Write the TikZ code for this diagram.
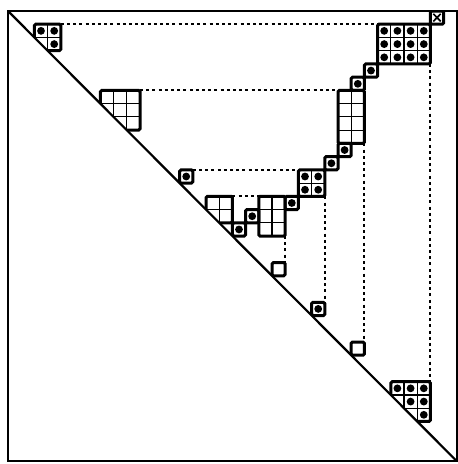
\documentclass[tikz,border=0pt]{standalone}
\tikzset{
  frameline/.style={line width=1.8pt},
  diagline/.style={line width=2.2pt},
  outline/.style={line width=3pt, rounded corners=1.4pt},
  gridline/.style={line width=1.1pt},
  dotline/.style={line width=2pt, dash pattern=on 3pt off 3.2pt},
  dotmark/.style={fill=black},
  xmark/.style={line width=1.6pt},
}
\newcommand\blk[4]{%
  \pgfmathtruncatemacro\blkNA{#3-1}%
  \pgfmathtruncatemacro\blkNB{#4-1}%
  \foreach \i in {1,...,\blkNA}{\draw[gridline] ({#1+\i},#2) -- ({#1+\i},{#2+#4});}
  \foreach \j in {1,...,\blkNB}{\draw[gridline] (#1,{#2+\j}) -- ({#1+#3},{#2+\j});}
  \draw[outline] (#1,#2) rectangle ({#1+#3},{#2+#4});
}
\newcommand\dotat[2]{\fill[dotmark] ({#1+0.5},{#2+0.5}) circle[radius=3.9pt];}
\newcommand\cellbox[2]{\draw[outline] (#1,#2) rectangle ({#1+1},{#2+1});}
\newcommand\celldot[2]{\cellbox{#1}{#2}\dotat{#1}{#2}}
\begin{document}
\begin{tikzpicture}[x=1pt,y=1pt]
\useasboundingbox (0,0) rectangle (458,-464);
\begin{scope}[shift={(8pt,-11pt)}, x=13.2pt, y=-13.24pt]
  % named end points of the dotted connectors
  \coordinate (Ane) at (4,1);   \coordinate (Cnw) at (28,1);
  \coordinate (Bne) at (10,6);  \coordinate (Enw) at (25,6);
  \coordinate (D8ne) at (14,12);\coordinate (Fnw) at (22,12);
  \coordinate (Hne) at (17,14); \coordinate (Gnw) at (19,14);
  \coordinate (Cse) at (32,4);  \coordinate (Lne) at (32,28);
  \coordinate (Ese) at (27,10); \coordinate (K3ne) at (27,25);
  \coordinate (Fse) at (24,14); \coordinate (K2ne) at (24,22);
  \coordinate (Gse) at (21,17); \coordinate (K1ne) at (21,19);
  % dotted connectors
  \draw[dotline] (Ane) -- (Cnw);
  \draw[dotline] (Bne) -- (Enw);
  \draw[dotline] (D8ne) -- (Fnw);
  \draw[dotline] (Hne) -- (Gnw);
  \draw[dotline] (Cse) -- (Lne);
  \draw[dotline] (Ese) -- (K3ne);
  \draw[dotline] (Fse) -- (K2ne);
  \draw[dotline] (Gse) -- (K1ne);
  \begin{scope}
    \clip (0,0) -- (34,0) -- (34,34) -- cycle;
    % block A
    \blk{2}{1}{2}{2}
    \dotat{2}{1}\dotat{3}{1}\dotat{3}{2}
    % block B
    \blk{7}{6}{3}{3}
    % block C
    \blk{28}{1}{4}{3}
    \foreach \c in {28,...,31}{\foreach \r in {1,2,3}{\dotat{\c}{\r}}}
    % X box
    \draw[outline] (32,0) rectangle (33,1);
    \draw[xmark] (32.22,0.22) -- (32.78,0.78);
    \draw[xmark] (32.22,0.78) -- (32.78,0.22);
    % staircase
    \celldot{27}{4}
    \celldot{26}{5}
    \blk{25}{6}{2}{4}
    \celldot{25}{10}
    \celldot{24}{11}
    \blk{22}{12}{2}{2}
    \dotat{22}{12}\dotat{23}{12}\dotat{22}{13}\dotat{23}{13}
    \celldot{21}{14}
    \blk{19}{14}{2}{3}
    \celldot{18}{15}
    \celldot{17}{16}
    \blk{15}{14}{2}{2}
    \celldot{13}{12}
    % diagonal cells
    \cellbox{20}{19}
    \celldot{23}{22}
    \cellbox{26}{25}
    % block L
    \blk{29}{28}{3}{3}
    \dotat{29}{28}\dotat{30}{28}\dotat{31}{28}\dotat{30}{29}\dotat{31}{29}\dotat{31}{30}
  \end{scope}
  % frame and diagonal
  \draw[frameline] (0,0) rectangle (34,34);
  \draw[diagline] (0,0) -- (34,34);
\end{scope}
\end{tikzpicture}
\end{document}
